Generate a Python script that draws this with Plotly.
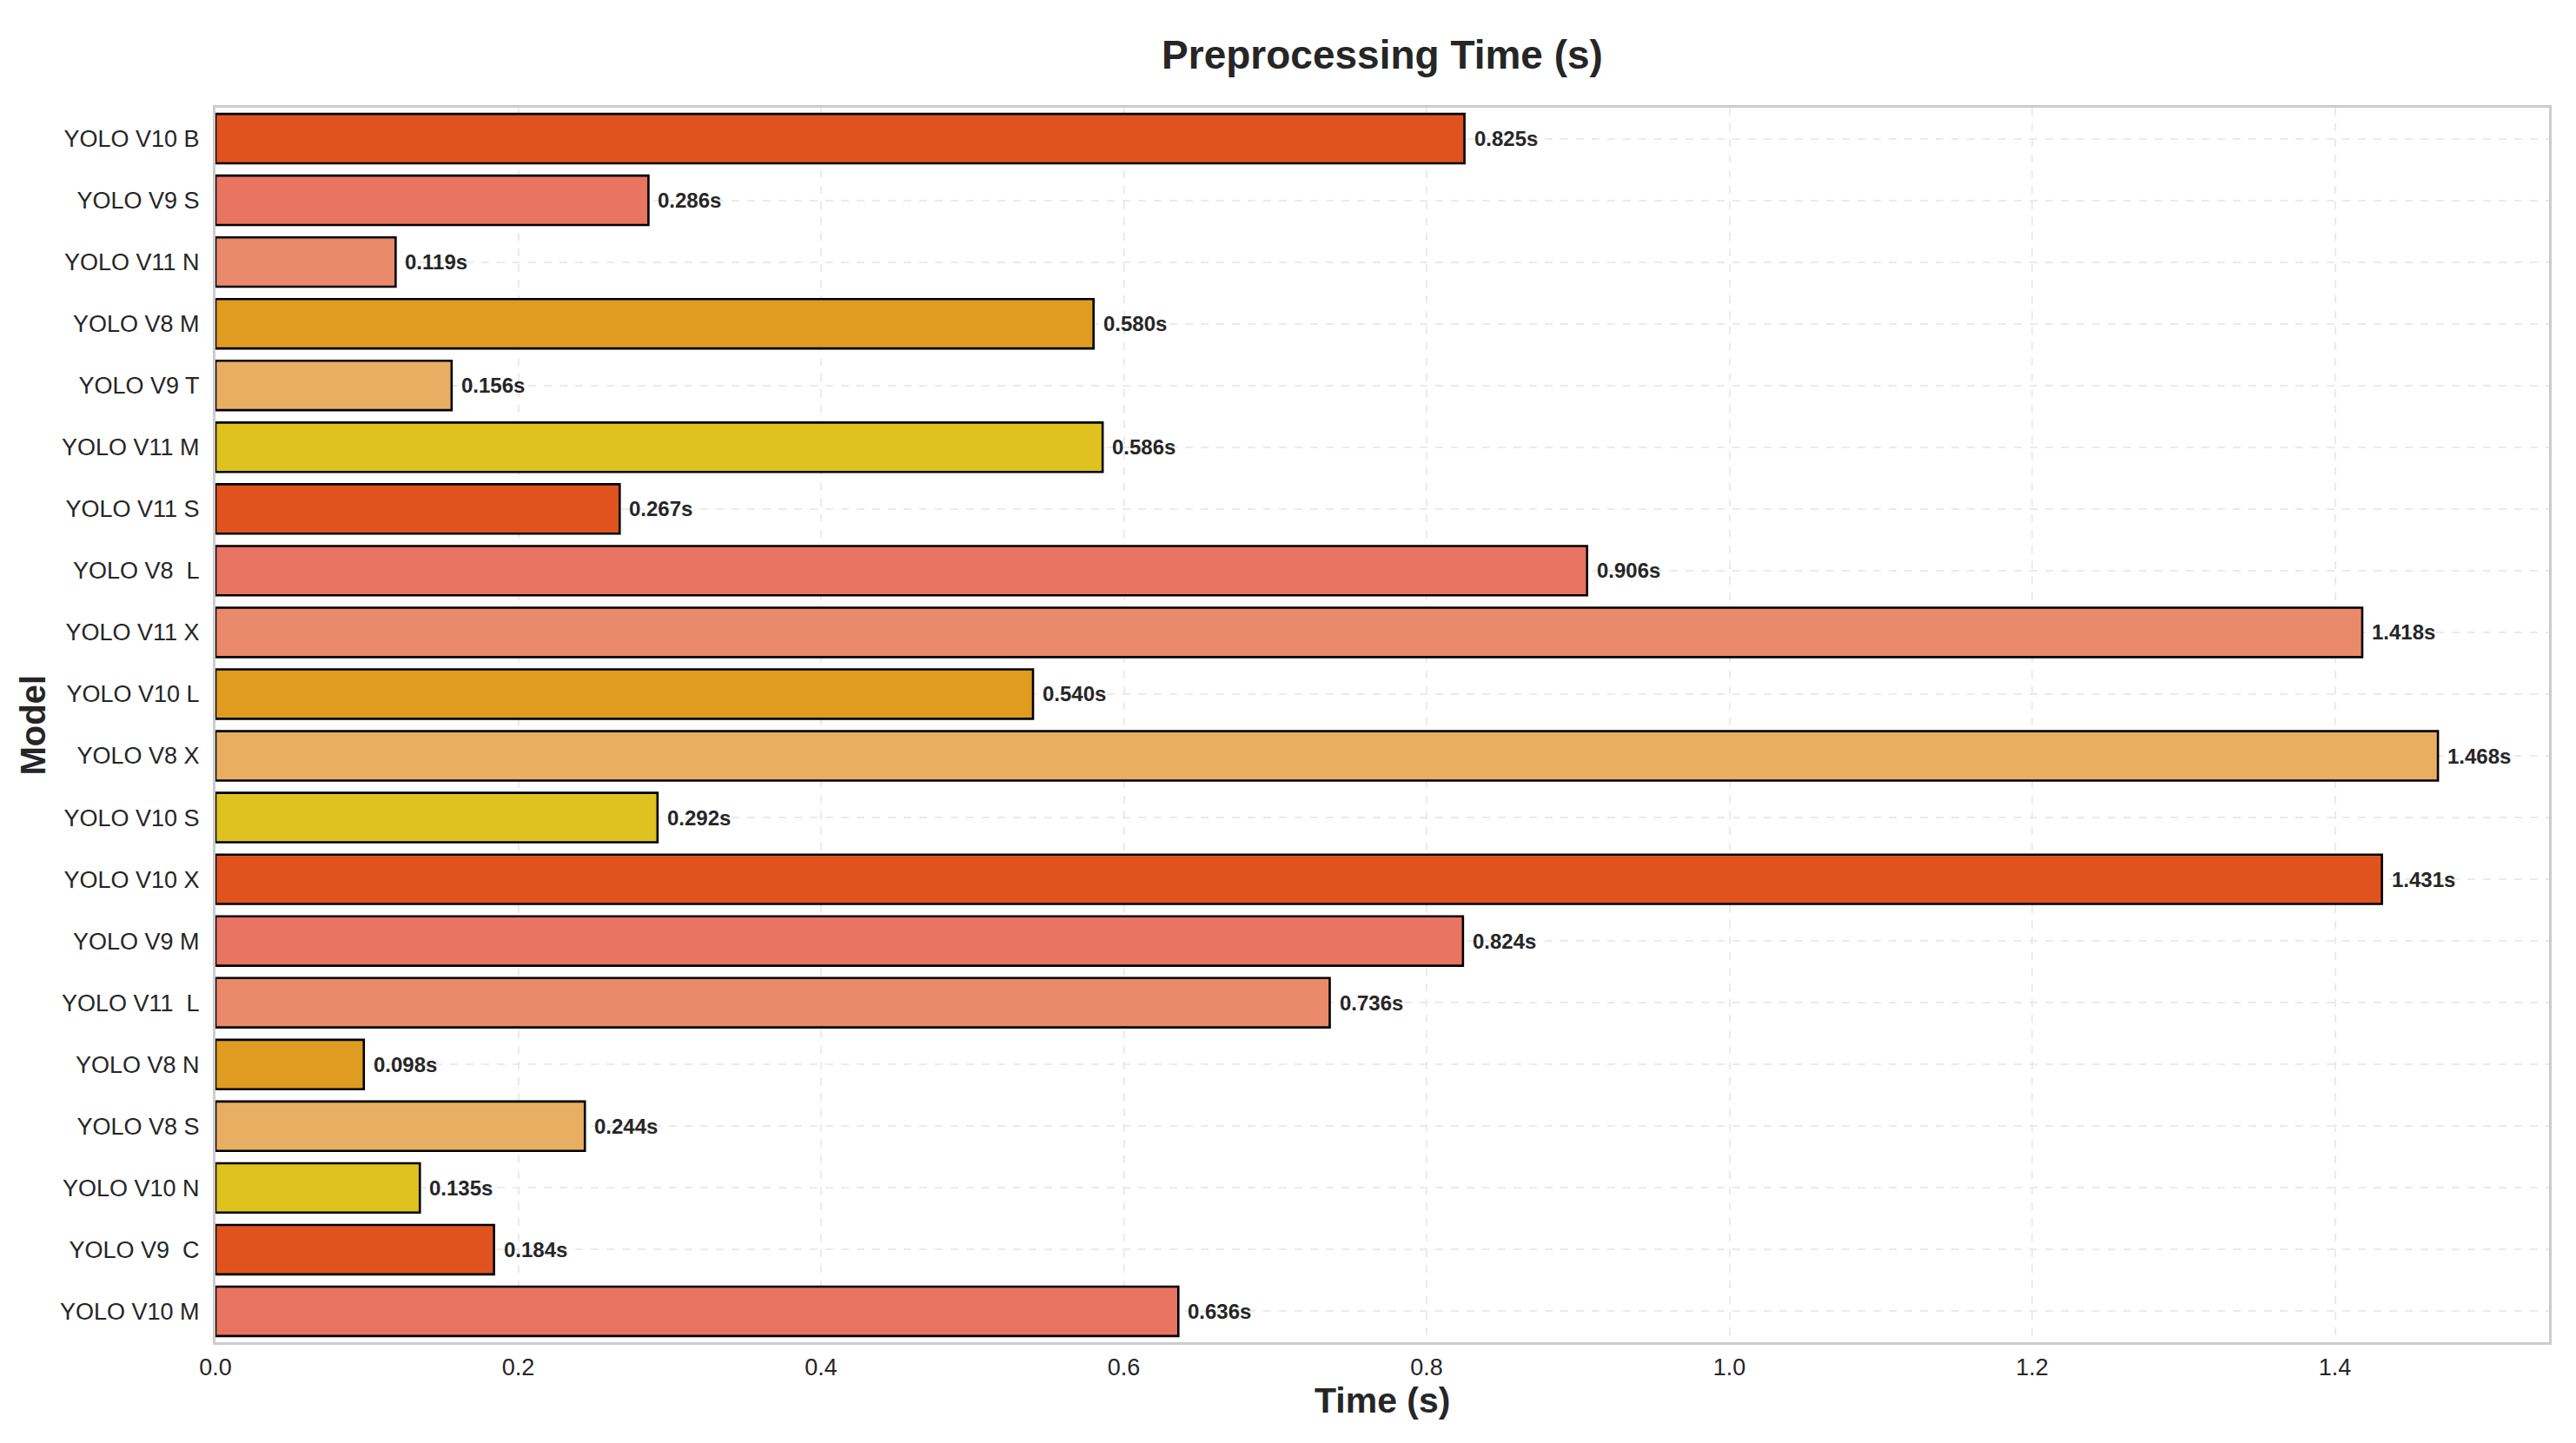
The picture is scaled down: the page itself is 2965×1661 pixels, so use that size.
import plotly.graph_objects as go

models = ["YOLO V10 B", "YOLO V9 S", "YOLO V11 N", "YOLO V8 M", "YOLO V9 T",
          "YOLO V11 M", "YOLO V11 S", "YOLO V8  L", "YOLO V11 X", "YOLO V10 L",
          "YOLO V8 X", "YOLO V10 S", "YOLO V10 X", "YOLO V9 M", "YOLO V11  L",
          "YOLO V8 N", "YOLO V8 S", "YOLO V10 N", "YOLO V9  C", "YOLO V10 M"]
times = [0.825, 0.286, 0.119, 0.580, 0.156,
         0.586, 0.267, 0.906, 1.418, 0.540,
         1.468, 0.292, 1.431, 0.824, 0.736,
         0.098, 0.244, 0.135, 0.184, 0.636]
palette = ["#E0531F", "#E87461", "#EA8A6A", "#DF9C20", "#E8AF62", "#DFC21F"]
x_ticks = [0.0, 0.2, 0.4, 0.6, 0.8, 1.0, 1.2, 1.4]

colors = [palette[i % len(palette)] for i in range(len(models))]
FONT = "Arial, 'Liberation Sans', sans-serif"
DARK = "#262626"

fig = go.Figure()
fig.add_trace(go.Bar(
    y=models, x=times, orientation="h", width=0.8,
    marker=dict(color=colors, line=dict(color="black", width=2.6)),
    hoverinfo="skip",
))

for m, v in zip(models, times):
    fig.add_annotation(x=v, y=m, xref="x", yref="y", text=f"{v:.3f}s",
                       showarrow=False, xanchor="left", yanchor="middle", xshift=9,
                       font=dict(family=FONT, size=24, color=DARK, weight="bold"))

# page offset of the plot div (body margin)
OFF = 8
W, H = 2965, 1661
L = 248 - OFF
T = 124 - OFF
R = W - (2934 - OFF)
B = H - (1545 - OFF)
PW, PH = W - L - R, H - T - B

fig.add_annotation(text="Model", xref="paper", yref="paper", x=((37 - OFF) - L) / PW, y=0.5,
                   textangle=-90, showarrow=False, xanchor="center", yanchor="middle",
                   font=dict(family=FONT, size=40, color=DARK, weight="bold"))
fig.add_annotation(text="Time (s)", xref="paper", yref="paper", x=0.5,
                   y=-((1612 - OFF) - (H - B)) / PH,
                   showarrow=False, xanchor="center", yanchor="middle",
                   font=dict(family=FONT, size=41, color=DARK, weight="bold"))

fig.update_layout(
    width=W, height=H,
    margin=dict(l=L, r=R, t=T, b=B),
    paper_bgcolor="white", plot_bgcolor="white",
    showlegend=False, bargap=0.2,
    title=dict(text="Preprocessing Time (s)", x=(L + PW / 2) / W, xanchor="center",
               y=1 - (63 - OFF) / H, yanchor="middle",
               font=dict(family=FONT, size=46, color=DARK, weight="bold")),
    font=dict(family=FONT, color=DARK),
)
fig.update_xaxes(range=[0, max(times) * 1.05], tickvals=x_ticks, tickformat=".1f",
                 showgrid=True, gridcolor="#ebebeb", gridwidth=2, griddash="dash",
                 showline=True, linecolor="#cccccc", linewidth=3, mirror=True,
                 zeroline=False, ticks="outside", ticklen=3, tickcolor="rgba(0,0,0,0)",
                 tickfont=dict(family=FONT, size=27, color=DARK))
fig.update_yaxes(type="category", categoryorder="array", categoryarray=models,
                 range=[len(models) - 0.5, -0.5],
                 tickvals=models, ticktext=[m.replace("  ", " \u00a0") for m in models],
                 showgrid=True, gridcolor="#ebebeb", gridwidth=2, griddash="dash",
                 showline=True, linecolor="#cccccc", linewidth=3, mirror=True,
                 zeroline=False, ticks="outside", ticklen=10, tickcolor="rgba(0,0,0,0)",
                 tickfont=dict(family=FONT, size=27, color=DARK))

fig.write_html("out.html")
